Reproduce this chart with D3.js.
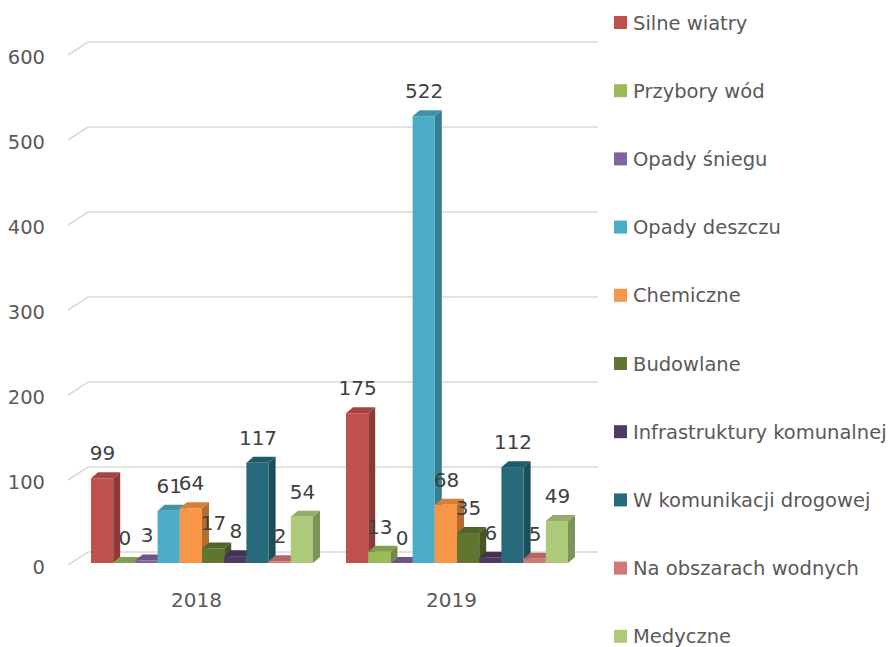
<!DOCTYPE html>
<html>
<head>
<meta charset="utf-8">
<script src="https://cdn.jsdelivr.net/npm/d3@7"></script>
<style>
  body { margin: 0; background: #fff; }
  text { font-family: "DejaVu Sans", sans-serif; }
</style>
</head>
<body>
<svg id="chart" width="890" height="647"></svg>
<script>
// Chart data
const years = ['2018', '2019'];
const seriesNames = [
  'Silne wiatry', 'Przybory wód', 'Opady śniegu', 'Opady deszczu', 'Chemiczne',
  'Budowlane', 'Infrastruktury komunalnej', 'W komunikacji drogowej',
  'Na obszarach wodnych', 'Medyczne'
];
const values2018 = [99, 0, 3, 61, 64, 17, 8, 117, 2, 54];
const values2019 = [175, 13, 0, 522, 68, 35, 6, 112, 5, 49];
const seriesColors = [
  '#C0504D', '#9BBB59', '#8064A2', '#4BACC6', '#F79646',
  '#5F7530', '#4D3B62', '#276A7C', '#D07876', '#ADCA7A'
];
const yTicks = [0, 100, 200, 300, 400, 500, 600];

const valuesByYear = [values2018, values2019];

const svg = d3.select('#chart');
svg.append('rect').attr('width', 890).attr('height', 647).attr('fill', '#fff');

// Scales: front plane of the bars and back wall of the 3D box
const yBar = d3.scaleLinear().domain([0, 600]).range([563, 49.4]);
const yWall = d3.scaleLinear().domain([0, 600]).range([552, 42]);
const xCat = d3.scaleBand().domain(years).range([74, 584]);
const xSer = d3.scaleBand().domain(d3.range(seriesNames.length)).range([17, 239]);

const depth = { dx: 7, dy: -6 };
const wall = { x0: 68, x1: 88, x2: 598, dy: 13 };

// Gridlines on the back wall and floor diagonal
const grid = svg.append('g').attr('class', 'grid');
yTicks.forEach((t) => {
  const y = yWall(t);
  grid.append('path')
    .attr('d', `M${wall.x0},${y + wall.dy}L${wall.x1},${y}L${wall.x2},${y}`)
    .attr('fill', 'none')
    .attr('stroke', '#D9D9D9')
    .attr('stroke-width', 1.5);
});

// Y axis labels
svg.append('g').selectAll('text')
  .data(yTicks)
  .join('text')
    .attr('x', 45)
    .attr('y', (d) => yWall(d) + 22)
    .attr('text-anchor', 'end')
    .attr('font-size', 19.5)
    .attr('fill', '#595959')
    .text((d) => d);

// Bars
const bars = [];
years.forEach((yr, yi) => {
  valuesByYear[yi].forEach((v, si) => {
    bars.push({ year: yr, series: si, value: v });
  });
});

const barW = xSer.bandwidth();
const barG = svg.append('g').attr('class', 'bars');
bars.forEach((d) => {
  const x = xCat(d.year) + xSer(d.series);
  const yTop = yBar(d.value);
  const yBase = yBar(0);
  const c = d3.color(seriesColors[d.series]);
  const g = barG.append('g');
  // right side face
  g.append('path')
    .attr('d', `M${x + barW},${yTop}L${x + barW + depth.dx},${yTop + depth.dy}` +
      `L${x + barW + depth.dx},${yBase + depth.dy}L${x + barW},${yBase}Z`)
    .attr('fill', c.darker(0.9));
  // top face
  g.append('path')
    .attr('d', `M${x},${yTop}L${x + depth.dx},${yTop + depth.dy}` +
      `L${x + barW + depth.dx},${yTop + depth.dy}L${x + barW},${yTop}Z`)
    .attr('fill', c.darker(0.45));
  // front face
  g.append('rect')
    .attr('x', x)
    .attr('y', yTop)
    .attr('width', barW)
    .attr('height', Math.max(0, yBase - yTop))
    .attr('fill', c);
});

// Data labels
svg.append('g').selectAll('text')
  .data(bars)
  .join('text')
    .attr('x', (d) => xCat(d.year) + xSer(d.series) + barW / 2 + 0.5)
    .attr('y', (d) => yBar(d.value) - 18)
    .attr('text-anchor', 'middle')
    .attr('font-size', 20)
    .attr('fill', '#404040')
    .text((d) => d.value);

// Category labels
svg.append('g').selectAll('text')
  .data(years)
  .join('text')
    .attr('x', (d) => xCat(d) + xCat.bandwidth() / 2 - 5)
    .attr('y', 607)
    .attr('text-anchor', 'middle')
    .attr('font-size', 20)
    .attr('fill', '#595959')
    .text((d) => d);

// Legend
const legend = svg.append('g').selectAll('g')
  .data(seriesNames)
  .join('g')
    .attr('transform', (d, i) => `translate(614, ${23 + i * 68.2})`);
legend.append('rect')
  .attr('x', 0)
  .attr('y', -7)
  .attr('width', 13)
  .attr('height', 13)
  .attr('fill', (d, i) => seriesColors[i]);
legend.append('text')
  .attr('x', 19)
  .attr('y', 6.5)
  .attr('font-size', 19.5)
  .attr('fill', '#595959')
  .text((d) => d);
</script>
</body>
</html>
